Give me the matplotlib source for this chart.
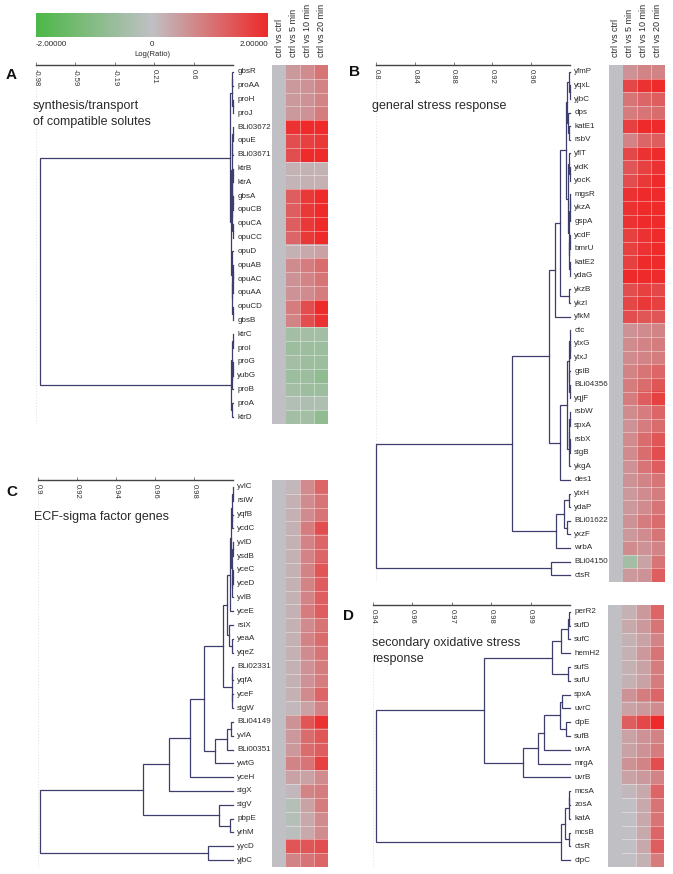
import matplotlib
matplotlib.use("Agg")
import matplotlib.pyplot as plt
import numpy as np
from matplotlib.colors import LinearSegmentedColormap

plt.rcParams['font.family'] = ['Liberation Sans', 'DejaVu Sans']

# ── Data ─────────────────────────────────────────────────────────────────────
columns = ["ctrl vs ctrl", "ctrl vs 5 min", "ctrl vs 10 min", "ctrl vs 20 min"]

# A: synthesis/transport of compatible solutes
genes_a = ["gbsR", "proAA", "proH", "proJ", "BLi03672", "opuE", "BLi03671", "ktrB",
           "ktrA", "gbsA", "opuCB", "opuCA", "opuCC", "opuD", "opuAB", "opuAC",
           "opuAA", "opuCD", "gbsB", "ktrC", "proI", "proG", "yubG", "proB", "proA", "ktrD"]
a_5 = [0.5, 0.5, 0.5, 0.5, 1.9, 1.5, 1.5, 0.2, 0.15, 1.3, 1.3, 1.3, 1.2, 0.2, 0.7, 0.6,
       0.6, 0.9, 0.8, -0.5, -0.6, -0.5, -0.6, -0.5, -0.25, -0.5]
a_10 = [0.7, 0.6, 0.6, 0.6, 2.0, 1.7, 2.0, 0.2, 0.2, 1.8, 1.8, 1.8, 1.8, 0.3, 0.9, 0.8,
        0.7, 1.5, 1.5, -0.5, -0.6, -0.6, -0.6, -0.6, -0.3, -0.5]
a_20 = [1.0, 0.8, 0.8, 0.9, 2.0, 1.8, 2.0, 0.2, 0.2, 2.0, 2.0, 2.0, 2.0, 0.4, 1.1, 1.0,
        0.9, 2.0, 1.9, -0.5, -0.6, -0.6, -0.8, -0.6, -0.3, -0.8]
tree_a = (-0.94,
          (0.965,
           (0.985, (0.993, "gbsR", "proAA"), (0.995, "proH", "proJ")),
           (0.98,
            (0.985,
             (0.99, (0.996, "BLi03672", "opuE"), "BLi03671"),
             (0.993, (0.997, "ktrB", "ktrA"),
              (0.994, (0.997, "gbsA", "opuCB"), (0.997, "opuCA", "opuCC")))),
            (0.988, "opuD",
             (0.99, (0.995, (0.998, "opuAB", "opuAC"), "opuAA"), (0.996, "opuCD", "gbsB"))))),
          (0.975,
           (0.985, (0.995, "ktrC", "proI"), (0.99, (0.996, "proG", "yubG"), "proB")),
           (0.99, "proA", "ktrD")))
ticks_a = ["-0.98", "-0.59", "-0.19", "0.21", "0.6"]

# B: general stress response
genes_b = ["yfmP", "yqxL", "yjbC", "dps", "katE1", "rsbV", "yflT", "yidK", "yocK", "mgsR",
           "ykzA", "gspA", "ycdF", "bmrU", "katE2", "ydaG", "ykzB", "ykzI", "yfkM", "ctc",
           "ytxG", "ytxJ", "gsiB", "BLi04356", "yqjF", "rsbW", "spxA", "rsbX", "sigB",
           "ykgA", "des1", "ytxH", "ydaP", "BLi01622", "yxzF", "wrbA", "BLi04150", "ctsR"]
b_5 = [0.6, 1.6, 1.0, 0.9, 1.7, 0.8, 1.6, 1.4, 1.5, 1.9, 1.9, 1.9, 1.7, 1.7, 1.7, 2.0,
       1.5, 1.6, 1.5, 0.6, 0.7, 0.7, 0.8, 0.9, 0.9, 0.7, 0.6, 0.7, 0.7, 0.6, 0.6, 0.5,
       0.5, 0.6, 0.5, 0.7, -0.5, 0.5]
b_10 = [0.8, 1.9, 1.2, 1.0, 2.0, 1.2, 1.9, 1.7, 1.8, 2.0, 2.0, 2.0, 1.9, 1.9, 2.0, 2.0,
        1.7, 1.8, 1.4, 0.7, 0.8, 0.8, 1.0, 1.1, 1.3, 0.9, 0.9, 1.1, 1.1, 1.0, 0.8, 0.7,
        0.7, 0.9, 0.7, 0.6, 0.4, 0.6]
b_20 = [0.8, 2.0, 1.3, 1.1, 2.0, 1.3, 2.0, 1.9, 2.0, 2.0, 2.0, 2.0, 2.0, 2.0, 2.0, 2.0,
        1.6, 1.7, 1.4, 0.8, 0.9, 0.9, 1.2, 1.4, 1.7, 1.2, 1.1, 1.4, 1.5, 1.3, 1.0, 0.9,
        1.0, 1.1, 1.0, 0.8, 1.0, 1.3]
tree_b = (0.80,
          (0.94,
           (0.978,
            (0.985,
             (0.99,
              (0.996,
               (0.997, (0.999, "yfmP", (0.9995, "yqxL", "yjbC")),
                (0.998, "dps", (0.999, "katE1", "rsbV"))),
               (0.998, (0.999, "yflT", (0.9995, "yidK", "yocK")),
                (0.9985, (0.9995, (0.9998, "mgsR", "ykzA"), "gspA"),
                 (0.999, (0.9995, "ycdF", "bmrU"), (0.9995, "katE2", "ydaG"))))),
              (0.999, "ykzB", "ykzI")),
             "yfkM"),
            (0.99,
             (0.997,
              (0.999, (0.9995, "ctc", (0.9997, "ytxG", "ytxJ")),
               (0.9993, "gsiB", (0.9996, "BLi04356", "yqjF"))),
              (0.9985, (0.9993, (0.9997, "rsbW", "spxA"), (0.9995, "rsbX", "sigB")), "ykgA")),
             "des1")),
           (0.986, (0.994, (0.999, "ytxH", "ydaP"), (0.997, "BLi01622", "yxzF")), "wrbA")),
          (0.98, "BLi04150", "ctsR"))
ticks_b = ["0.8", "0.84", "0.88", "0.92", "0.96"]

# C: ECF-sigma factor genes
genes_c = ["yvlC", "rsiW", "yqfB", "ycdC", "yvlD", "ysdB", "yceC", "yceD", "yvlB", "yceE",
           "rsiX", "yeaA", "yqeZ", "BLi02331", "yqfA", "yceF", "sigW", "BLi04149", "yvlA",
           "BLi00351", "ywtG", "yceH", "sigX", "sigV", "pbpE", "yrhM", "yycD", "yjbC"]
c_5 = [0.1, 0.2, 0.2, 0.2, 0.2, 0.2, 0.2, 0.2, 0.2, 0.2, 0.2, 0.2, 0.2, 0.2, 0.2, 0.2,
       0.1, 0.6, 0.5, 0.5, 0.8, 0.4, 0.1, -0.2, -0.2, -0.1, 1.4, 0.8]
c_10 = [0.7, 0.7, 0.7, 0.9, 0.8, 0.8, 0.8, 0.8, 0.8, 0.9, 0.7, 0.8, 0.7, 0.6, 0.6, 0.7,
        0.4, 1.4, 1.1, 1.1, 1.0, 0.4, 0.8, 0.4, 0.3, 0.3, 1.4, 1.0]
c_20 = [1.2, 1.0, 1.0, 1.5, 1.2, 1.2, 1.4, 1.3, 1.3, 1.3, 1.0, 1.1, 1.0, 0.9, 0.9, 1.2,
        0.8, 1.9, 1.4, 1.3, 1.7, 0.7, 0.9, 0.9, 0.7, 0.7, 1.5, 1.2]
tree_c = (0.901,
          (0.954,
           (0.967,
            (0.978,
             (0.985,
              (0.995,
               (0.997,
                (0.9985,
                 (0.9992, (0.9996, (0.9998, "yvlC", "rsiW"), (0.9997, "yqfB", "ycdC")),
                  (0.9995, (0.9998, "yvlD", "ysdB"), (0.9996, (0.9998, "yceC", "yceD"), "yvlB"))),
                 "yceE"),
                (0.998, "rsiX", (0.9995, "yeaA", "yqeZ"))),
               (0.9993, (0.9996, "BLi02331", "yqfA"), (0.9996, "yceF", "sigW"))),
              (0.991, (0.997, (0.999, "BLi04149", "yvlA"), "BLi00351"), "ywtG")),
             "yceH"),
            "sigX"),
           (0.993, "sigV", (0.9985, "pbpE", "yrhM"))),
          (0.987, "yycD", "yjbC"))
ticks_c = ["0.9", "0.92", "0.94", "0.96", "0.98"]

# D: secondary oxidative stress response
genes_d = ["perR2", "sufD", "sufC", "hemH2", "sufS", "sufU", "spxA", "uvrC", "clpE", "sufB",
           "uvrA", "mrgA", "uvrB", "mcsA", "zosA", "katA", "mcsB", "ctsR", "clpC"]
d_5 = [0.2, 0.3, 0.2, 0.2, 0.2, 0.2, 0.6, 0.4, 1.3, 0.4, 0.4, 0.6, 0.4, 0.1, 0.0, 0.0,
       0.0, 0.0, 0.0]
d_10 = [0.5, 0.5, 0.4, 0.5, 0.4, 0.4, 0.9, 0.5, 1.6, 0.6, 0.6, 0.8, 0.5, 0.3, 0.3, 0.3,
        0.3, 0.3, 0.2]
d_20 = [1.2, 1.0, 0.8, 1.0, 0.9, 0.9, 1.2, 0.7, 2.0, 0.8, 0.9, 1.5, 0.8, 1.2, 1.0, 1.0,
        1.2, 1.3, 0.9]
tree_d = (0.9453,
          (0.9758,
           (0.9948, (0.9974, (0.9993, (0.9997, "perR2", "sufD"), "sufC"), "hemH2"),
            (0.9993, "sufS", "sufU")),
           (0.9868,
            (0.991,
             (0.9927, (0.9972, (0.9977, "spxA", "uvrC"), (0.9988, "clpE", "sufB")), "uvrA"),
             "mrgA"),
            "uvrB")),
          (0.9974, (0.9987, (0.9996, (0.9998, "mcsA", "zosA"), "katA"),
                    (0.9996, "mcsB", "ctsR")), "clpC"))
ticks_d = ["0.94", "0.96", "0.97", "0.98", "0.99"]

# ── Style ────────────────────────────────────────────────────────────────────
W, H = 673, 874
C_TREE = "#3e3e6c"
C_TXT = "#2a2a2a"
CMAP = LinearSegmentedColormap.from_list("logratio", ["#4cb848", "#c0c0c4", "#ee2a2a"])

fig = plt.figure(figsize=(W / 100, H / 100), dpi=100, facecolor="white")


def px_ax(x0, y0, x1, y1):
    return fig.add_axes([x0 / W, 1 - y1 / H, (x1 - x0) / W, (y1 - y0) / H])


def draw_tree(ax, node, idx):
    if isinstance(node, str):
        return idx[node], 1.0
    h, left, right = node
    yl, hl = draw_tree(ax, left, idx)
    yr, hr = draw_tree(ax, right, idx)
    ax.plot([hl, h, h, hr], [yl, yl, yr, yr], color=C_TREE, lw=0.9,
            solid_joinstyle="miter", clip_on=False)
    return (yl + yr) / 2, h


def panel(genes, vals, tree, xmin, ticklabels, dx, hx, ytop, ybot):
    n = len(genes)
    idx = {g: i for i, g in enumerate(genes)}
    # dendrogram
    ax = px_ax(dx[0], ytop, dx[1], ybot)
    ax.set_xlim(xmin, 1.0)
    ax.set_ylim(n - 0.5, -0.5)
    for s in ["left", "right", "bottom"]:
        ax.spines[s].set_visible(False)
    ax.spines["top"].set_color("#444444")
    ax.spines["top"].set_linewidth(1.0)
    ax.set_yticks([])
    ticks = np.linspace(xmin, 1.0, 6)[:5]
    ax.xaxis.tick_top()
    ax.set_xticks(ticks)
    ax.tick_params(axis="x", length=2, width=0.6, color="#666666", labeltop=False)
    for t, lbl in zip(ticks, ticklabels):
        ax.annotate(lbl, xy=(t, 1), xycoords=("data", "axes fraction"),
                    xytext=(0, -3), textcoords="offset points", rotation=-90,
                    ha="center", va="top", fontsize=5.5, color="#333333")
    ax.axvline(xmin, color="#e4e4e4", lw=0.8, ls=":", zorder=0)
    draw_tree(ax, tree, idx)
    for i, g in enumerate(genes):
        ax.annotate(g, xy=(1.0, i), xycoords="data", xytext=(3, 0),
                    textcoords="offset points", ha="left", va="center",
                    fontsize=5.8, color=C_TXT, annotation_clip=False)
    # heatmap
    hax = px_ax(hx[0], ytop, hx[1], ybot)
    data = np.column_stack([np.zeros(n)] + [np.asarray(v, float) for v in vals])
    hax.imshow(data, cmap=CMAP, vmin=-2, vmax=2, aspect="auto", interpolation="nearest")
    for k in range(1, n):
        hax.plot([0.5, 3.5], [k - 0.5, k - 0.5], color="white", lw=0.6, alpha=0.45)
    for k in (1.5, 2.5):
        hax.axvline(k, color="white", lw=0.6, alpha=0.45)
    hax.set_xlim(-0.5, 3.5)
    hax.set_ylim(n - 0.5, -0.5)
    hax.axis("off")
    return ax, hax


# ── Panels ───────────────────────────────────────────────────────────────────
panel(genes_a, [a_5, a_10, a_20], tree_a, -0.98, ticks_a, (36, 233), (272, 328), 65, 424)
panel(genes_b, [b_5, b_10, b_20], tree_b, 0.80, ticks_b, (376, 570), (609, 665), 65, 582)
panel(genes_c, [c_5, c_10, c_20], tree_c, 0.90, ticks_c, (38, 233), (272, 328), 480, 867)
panel(genes_d, [d_5, d_10, d_20], tree_d, 0.9445, ticks_d, (373, 570), (608, 664), 605, 867)

# column headers
for hx0 in (272, 609):
    for j, lbl in enumerate(columns):
        fig.text((hx0 + (j + 0.5) * 14) / W, 1 - 57 / H, lbl, rotation=90,
                 ha="center", va="bottom", fontsize=6.5, color=C_TXT)

# panel letters and titles
for letter, x, y in [("A", 11, 75), ("B", 355, 72), ("C", 12, 492), ("D", 348, 616)]:
    fig.text(x / W, 1 - y / H, letter, fontsize=11, fontweight="bold",
             ha="center", va="center", color="#111111")
for txt, x, y in [("synthesis/transport\nof compatible solutes", 33, 114),
                  ("general stress response", 372, 106),
                  ("ECF-sigma factor genes", 34, 517),
                  ("secondary oxidative stress\nresponse", 372, 651)]:
    fig.text(x / W, 1 - y / H, txt, fontsize=9, ha="left", va="center",
             linespacing=1.35, color=C_TXT)

# colour scale
cax = px_ax(36, 13, 268, 37)
cax.imshow(np.linspace(-2, 2, 256)[None, :], cmap=CMAP, vmin=-2, vmax=2,
           aspect="auto", extent=(-2, 2, 0, 1))
cax.axis("off")
fig.text(36 / W, 1 - 44 / H, "-2.00000", fontsize=5.8, ha="left", va="center", color=C_TXT)
fig.text(152 / W, 1 - 44 / H, "0", fontsize=5.8, ha="center", va="center", color=C_TXT)
fig.text(268 / W, 1 - 44 / H, "2.00000", fontsize=5.8, ha="right", va="center", color=C_TXT)
fig.text(152 / W, 1 - 54 / H, "Log(Ratio)", fontsize=5.5, ha="center", va="center", color=C_TXT)

fig.savefig("out.png", dpi=100, facecolor="white")
